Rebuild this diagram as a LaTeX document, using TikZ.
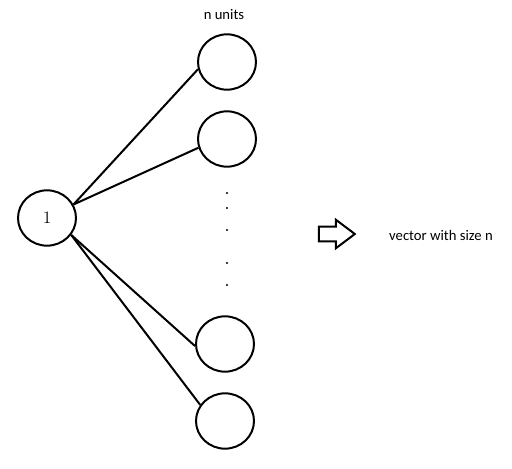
\documentclass[tikz,border=0pt]{standalone}
\usepackage{fontspec}
\newfontfamily\calibri{Carlito}
\usetikzlibrary{shapes.geometric,shapes.arrows}

\begin{document}
\begin{tikzpicture}[x=0.75pt,y=0.75pt,node distance=57.75pt,
    unit/.style={draw,ellipse,line width=1.5pt,minimum width=43.5pt,minimum height=41.5pt,inner sep=0pt},
    dot/.style={circle,fill,inner sep=0pt,minimum size=1.6pt},
    wire/.style={line width=1.5pt},
    label/.style={font=\calibri\fontsize{11}{13}\selectfont}]
  \useasboundingbox (0,0) rectangle (512,469);
  \node[unit] (0) at (47,251) {\fontsize{13}{15}\selectfont 1};
  \node[unit] (1) at (227,407) {};
  \node[unit,below of=1] (2) {};
  \node[unit] (4) at (225,48) {};
  \node[unit,above of=4] (3) {};
  \node[label] (top) at (224,454) {n units};
  \node[dot] (d1) at (227,276) {};
  \node[dot] (d2) at (227,261) {};
  \node[dot] (d3) at (227,239) {};
  \node[dot] (d4) at (227,206) {};
  \node[dot] (d5) at (227,184) {};
  \node[single arrow,draw,line width=1.5pt,inner xsep=0pt,inner ysep=4.7pt,
        minimum height=27pt,
        single arrow head extend=5.2pt,single arrow tip angle=74] (arr) at (332,235) {};
  \node[label] (out) at (441,234) {vector with size n};
  \path[wire] (0.27) edge (1.194)
                     edge (2.197)
              (0.-35) edge (3.184)
                      edge (4.147);
\end{tikzpicture}
\end{document}
